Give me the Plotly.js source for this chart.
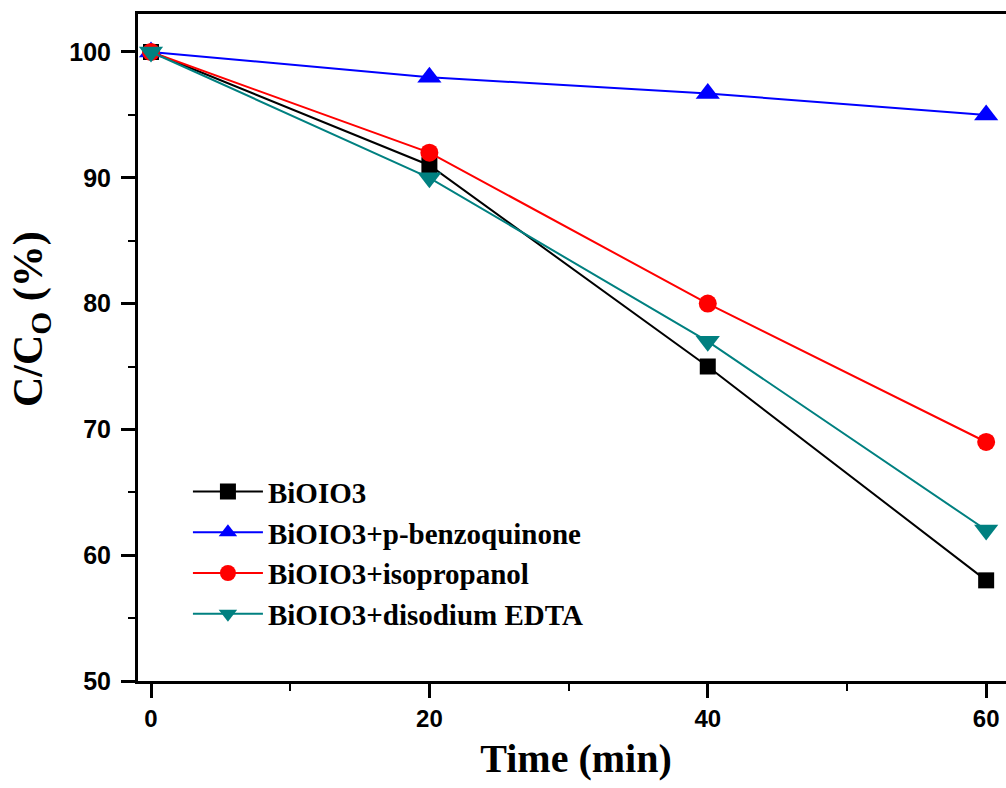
<!DOCTYPE html>
<html>
<head>
<meta charset="utf-8">
<script src="https://cdn.plot.ly/plotly-3.0.1.min.js"></script>
<style>
html,body{margin:0;padding:0;overflow:hidden;background:#fff;}
#chart{width:1030px;height:788px;}
</style>
</head>
<body>
<div id="chart"></div>
<script>
const time = [0, 20, 40, 60];
const seriesNames = ['BiOIO3', 'BiOIO3+p-benzoquinone', 'BiOIO3+isopropanol', 'BiOIO3+disodium EDTA'];
const bioio3 = [100, 91, 75, 58];
const benzoquinone = [100, 98, 96.7, 95];
const isopropanol = [100, 92, 80, 69];
const edta = [100, 90, 77, 62];
const xTickVals = [0, 20, 40, 60];
const yTickVals = [50, 60, 70, 80, 90, 100];

const colors = ['#000000', '#0000FF', '#FF0000', '#008080'];
const symbols = ['square', 'triangle-up', 'circle', 'triangle-down'];
const sizes = [16, 21, 18, 21];
const values = [bioio3, benzoquinone, isopropanol, edta];

const traces = values.map((v, i) => ({
  x: time, y: v, name: seriesNames[i], type: 'scatter', mode: 'lines+markers',
  line: {color: colors[i], width: 2},
  marker: {color: colors[i], symbol: symbols[i], size: sizes[i], line: {width: 0}}
}));

const layout = {
  width: 1030, height: 788,
  margin: {l: 138, r: 16, t: 14, b: 107},
  paper_bgcolor: '#fff', plot_bgcolor: '#fff',
  showlegend: true,
  legend: {
    x: 0.057, y: 0.322, xanchor: 'left', yanchor: 'top',
    font: {family: 'Liberation Serif', size: 29, weight: 'bold', color: '#000'},
    bgcolor: 'rgba(0,0,0,0)', itemwidth: 70, tracegroupgap: 0
  },
  xaxis: {
    range: [-0.934, 62.0], tickvals: xTickVals, ticks: 'outside', ticklen: 14, tickwidth: 3, tickcolor: '#000',
    minor: {dtick: 10, ticks: 'outside', ticklen: 7, tickwidth: 2, tickcolor: '#000'},
    showline: true, linewidth: 3, linecolor: '#000', mirror: true, showgrid: false, zeroline: false,
    tickfont: {family: 'Liberation Sans', size: 24, weight: 'bold', color: '#000'},
    title: {text: 'Time (min)', font: {family: 'Liberation Serif', size: 40, weight: 'bold', color: '#000'}, standoff: 14}
  },
  yaxis: {
    range: [50, 103.02], tickvals: yTickVals, ticks: 'outside', ticklen: 14, tickwidth: 3, tickcolor: '#000',
    minor: {dtick: 5, ticks: 'outside', ticklen: 7, tickwidth: 2, tickcolor: '#000'},
    showline: true, linewidth: 3, linecolor: '#000', mirror: true, showgrid: false, zeroline: false,
    ticklabelstandoff: 5,
    tickfont: {family: 'Liberation Sans', size: 25, weight: 'bold', color: '#000'}
  },
  annotations: [{
    text: 'C/C<sub>O</sub> (%)', textangle: -90, showarrow: false,
    xref: 'paper', yref: 'paper', x: -0.1221, y: 0.5427, xanchor: 'center', yanchor: 'middle',
    font: {family: 'Liberation Serif', size: 42, weight: 'bold', color: '#000'}
  }]
};

Plotly.newPlot('chart', traces, layout, {displayModeBar: false, staticPlot: true});
</script>
</body>
</html>
